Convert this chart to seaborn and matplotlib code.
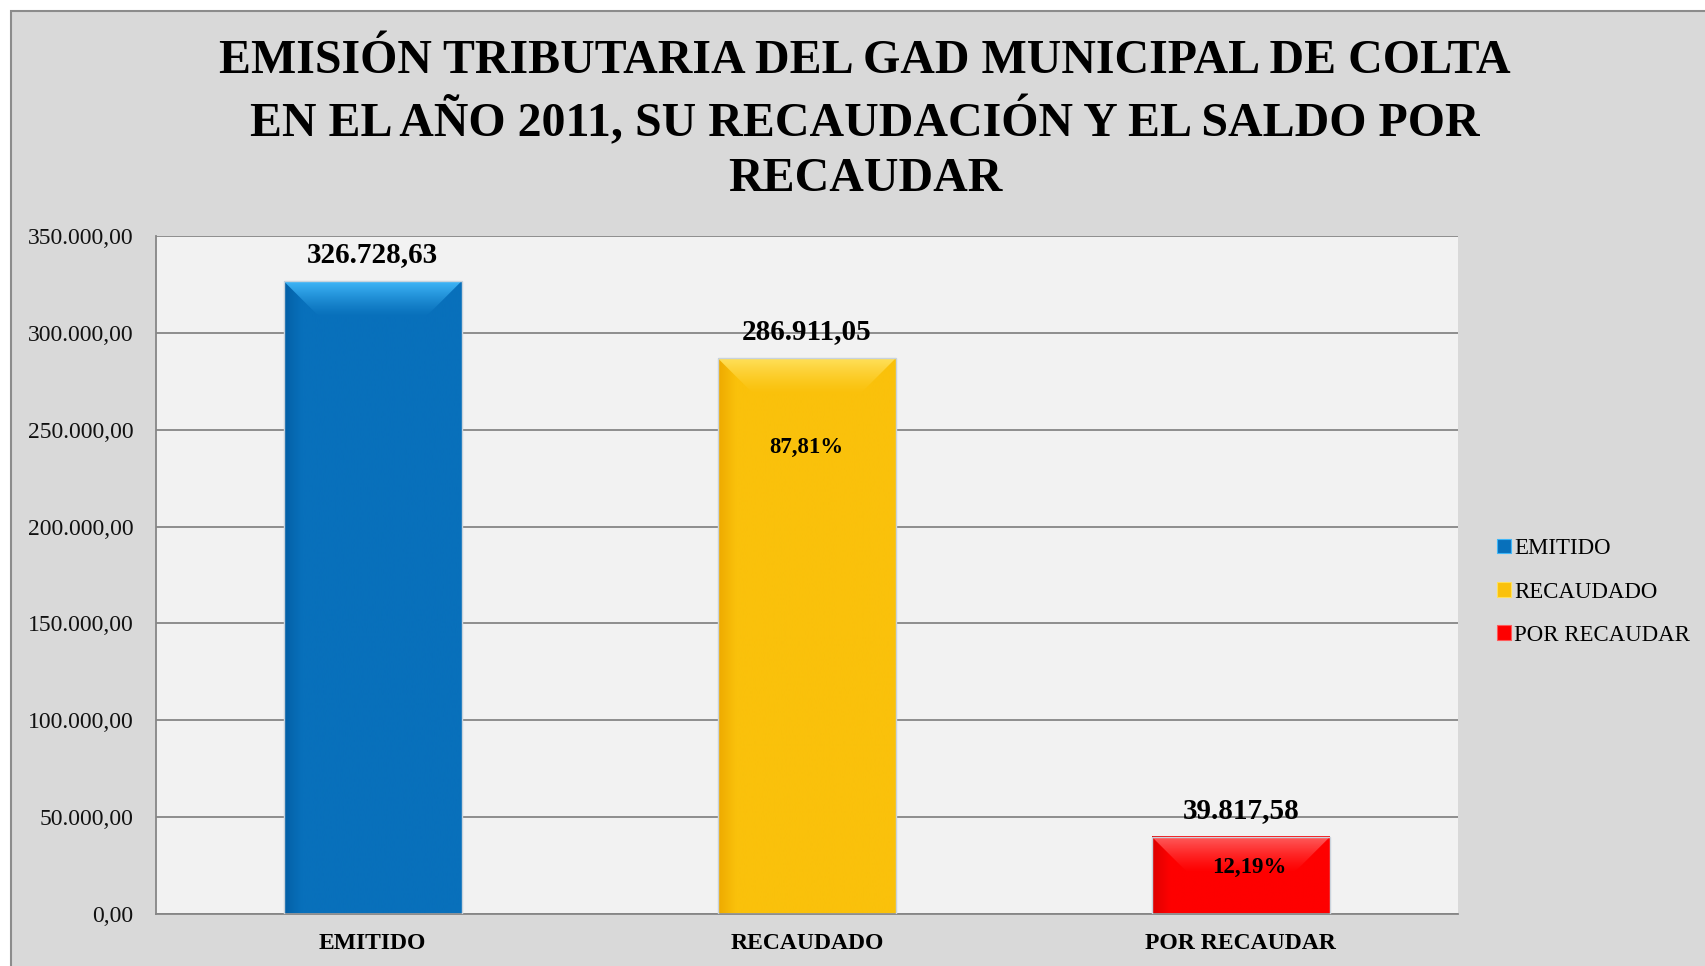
import numpy as np
import pandas as pd
import matplotlib
matplotlib.use('Agg')
import matplotlib.pyplot as plt
from matplotlib.patches import Rectangle, Polygon
from matplotlib.colors import LinearSegmentedColormap
import seaborn as sns

# datos del gráfico
categorias = ['EMITIDO', 'RECAUDADO', 'POR RECAUDAR']
valores = [326728.63, 286911.05, 39817.58]
porcentajes = ['', '87,81%', '12,19%']
yticks = [0, 50000, 100000, 150000, 200000, 250000, 300000, 350000]
titulo = ('EMISIÓN TRIBUTARIA DEL GAD MUNICIPAL DE COLTA\n'
          'EN EL AÑO 2011, SU RECAUDACIÓN Y EL SALDO POR\n'
          'RECAUDAR')

# colores (principal, oscuro, claro)
colores = ['#0870bb', '#fac10b', '#fe0000']
oscuros = ['#0460a6', '#eeaa00', '#dd0000']
claros = ['#3fb6f8', '#ffe05a', '#ff5a5a']

# desplazamiento de las etiquetas de porcentaje (puntos)
pct_offset = [(0, 0), (0, -64), (6, -22)]


def fmt_es(v):
    return f'{v:,.2f}'.replace(',', 'X').replace('.', ',').replace('X', '.')


sns.set_style('white')
plt.rcParams['font.family'] = ['Liberation Serif', 'DejaVu Serif']
plt.rcParams['text.color'] = 'black'
plt.rcParams['xtick.color'] = 'black'
plt.rcParams['ytick.color'] = 'black'

W, H = 1706, 966
fig = plt.figure(figsize=(W / 100, H / 100), dpi=100)
fig.patch.set_facecolor('white')
# fondo gris del área del gráfico
fig.patches.append(Rectangle((11 / W, -0.1), 1.2, 1.1 - 11 / H,
                             transform=fig.transFigure, facecolor='#d9d9d9',
                             edgecolor='#8c8c8c', lw=1.5, zorder=-10))

ax = fig.add_axes([155.6 / W, 52 / H, (1458 - 155.6) / W, (914 - 236) / H])
df = pd.DataFrame({'categoria': categorias, 'valor': valores})
sns.barplot(data=df, x='categoria', y='valor', hue='categoria', palette=colores,
            saturation=1, width=0.41, ax=ax, legend=False)

ax.set_facecolor('#f2f2f2')
ax.set_xlim(-0.5, 2.5)
ax.set_ylim(0, 350000)
ax.set_yticks(yticks)
ax.set_yticklabels([fmt_es(t) for t in yticks], fontsize=17, color='#111111')
ax.yaxis.grid(True, color='#868686', lw=1.3)
ax.set_axisbelow(True)
for s in ['top', 'right']:
    ax.spines[s].set_visible(False)
for s in ['left', 'bottom']:
    ax.spines[s].set_color('#868686')
    ax.spines[s].set_linewidth(1.3)
ax.tick_params(axis='y', length=0, pad=16)
ax.tick_params(axis='x', length=0, pad=14)
for lab in ax.get_xticklabels():
    lab.set_fontsize(17)
    lab.set_fontweight('bold')
ax.set_xlabel('')
ax.set_ylabel('')

# efecto biselado de las barras
bars = list(ax.patches)
inv = ax.transData.inverted()
bisel = 36
for p, c, d, l in zip(bars, colores, oscuros, claros):
    x0, w, h = p.get_x(), p.get_width(), p.get_height()
    cm_h = LinearSegmentedColormap.from_list('h', [(0, d), (0.1, c), (0.85, c), (1, c)])
    ax.imshow(np.linspace(0, 1, 256).reshape(1, -1), extent=[x0, x0 + w, 0, h],
              aspect='auto', cmap=cm_h, zorder=2, interpolation='bilinear')
    px0, py1 = ax.transData.transform((x0, h))
    px1, _ = ax.transData.transform((x0 + w, h))
    _, y_in = inv.transform((px0, py1 - bisel))
    xa, _ = inv.transform((px0 + bisel, py1))
    xb, _ = inv.transform((px1 - bisel, py1))
    poly = Polygon([(x0, h), (x0 + w, h), (xb, y_in), (xa, y_in)], closed=True,
                   facecolor='none', edgecolor='none', zorder=2.5)
    ax.add_patch(poly)
    cm_v = LinearSegmentedColormap.from_list('v', [c, l])
    im = ax.imshow(np.linspace(0, 1, 64).reshape(-1, 1) ** 1.3,
                   extent=[x0, x0 + w, y_in, h], origin='lower', aspect='auto',
                   cmap=cm_v, zorder=2.6, interpolation='bilinear')
    im.set_clip_path(poly)
    p.set_facecolor('none')
    p.set_edgecolor('#c9d3dc')
    p.set_linewidth(1.0)
    p.set_zorder(3)

ax.set_xlim(-0.5, 2.5)
ax.set_ylim(0, 350000)

# etiquetas de valores y porcentajes
for i, v in enumerate(valores):
    ax.annotate(fmt_es(v), (i, v), xytext=(0, 19), textcoords='offset points',
                ha='center', va='center', fontsize=21, fontweight='bold', zorder=5)
    if porcentajes[i]:
        ax.annotate(porcentajes[i], (i, v), xytext=pct_offset[i],
                    textcoords='offset points', ha='center', va='center',
                    fontsize=16.5, fontweight='bold', zorder=5)

# leyenda
handles = [Rectangle((0, 0), 1, 1, facecolor=c, edgecolor=l, lw=0.8)
           for c, l in zip(colores, claros)]
fig.legend(handles, categorias, loc='center left',
           bbox_to_anchor=(1488 / W, 1 - 592 / H), frameon=False,
           handlelength=0.6, handleheight=0.6, handletextpad=0.15,
           labelspacing=0.97, fontsize=16.5, borderaxespad=0)

fig.text(865 / W, 1 - 120 / H, titulo, ha='center', va='center', fontsize=34.5,
         fontweight='bold', linespacing=1.33)

fig.savefig('out.png', dpi=100)
